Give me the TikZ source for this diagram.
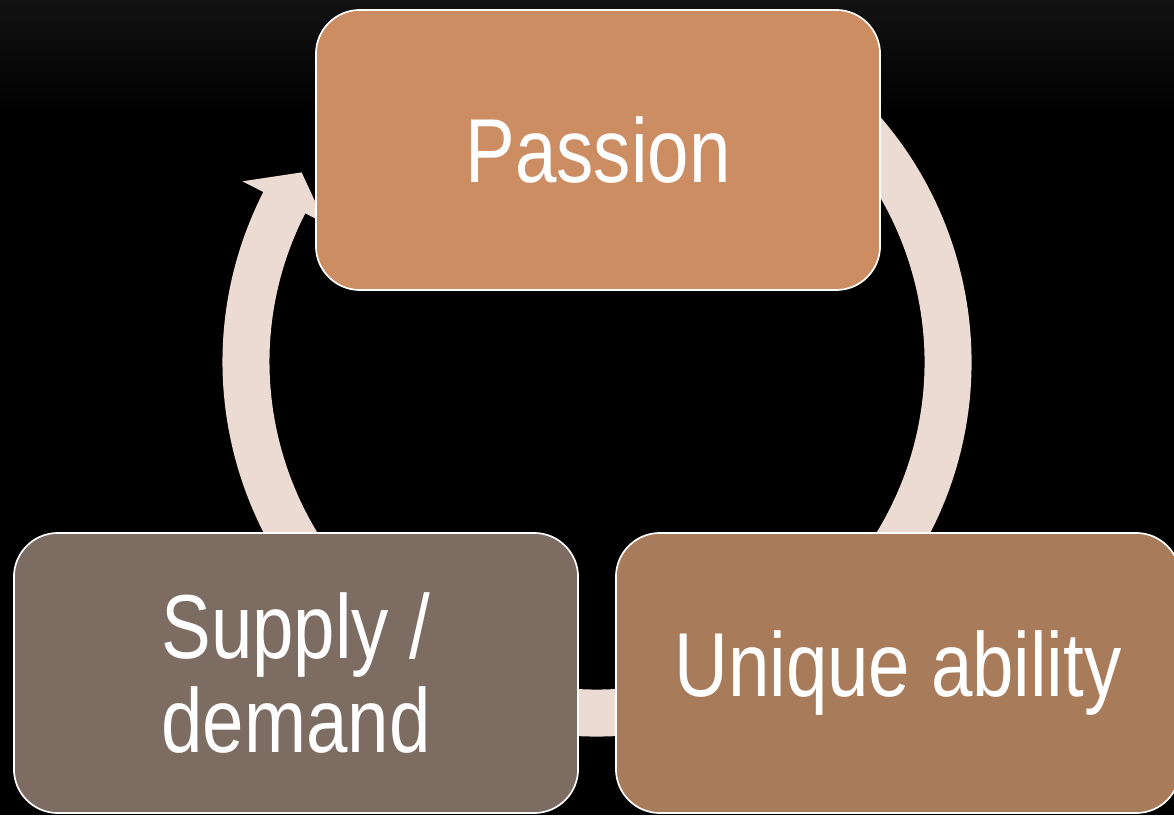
\documentclass[tikz,border=0pt]{standalone}
\usepackage{fontspec}
\usepackage{xcolor}
\usepackage{tikz}
\usetikzlibrary{positioning}
\newfontfamily\boxfont[FakeStretch=0.82]{Liberation Sans}
\definecolor{passioncol}{HTML}{CC8D62}
\definecolor{abilitycol}{HTML}{A87B5A}
\definecolor{supplycol}{HTML}{7C6C61}
\definecolor{ringcol}{HTML}{EBDBD3}

\begin{document}
\begin{tikzpicture}[
  x=0.025cm, y=0.025cm,
  stage/.style={draw=white, line width=1.2pt, rounded corners=1.1cm, minimum width=14.1cm, minimum height=7.0cm,
    text=white, align=center, font=\boxfont\fontsize{64.6}{66.8}\selectfont},
  ring/.style={ringcol, line width=1.175cm}
]
\useasboundingbox (0,0) rectangle (1174,815);
\fill[black] (0,0) rectangle (1174,815);
\shade[top color=black!93, bottom color=black] (0,700) rectangle (1174,815);

\coordinate (hub) at (597,453);
\draw[ring] ([shift={(60:351)}]hub) arc[start angle=60, end angle=-207.5, radius=351];
\fill[ringcol] ([shift={(153:398)}]hub) -- ([shift={(147.3:351)}]hub) -- ([shift={(153:305)}]hub) -- cycle;

\node[stage, fill=passioncol] (passion) at (598,665) {Passion};
\node[stage, fill=supplycol] (supply) at (296,142) {Supply /\\demand};
\node[stage, fill=abilitycol] (ability) at (898,142) {Unique ability};
\end{tikzpicture}
\end{document}
